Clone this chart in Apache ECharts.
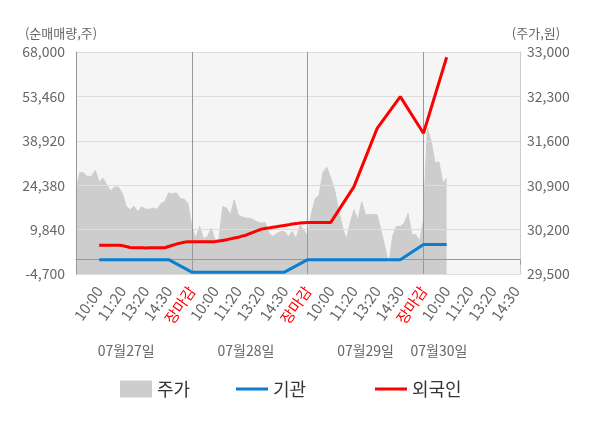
<!DOCTYPE html>
<html>
    <head>
        <meta charset="utf-8" />
        <script src="https://cdnjs.cloudflare.com/ajax/libs/echarts/6.0.0/echarts.min.js"></script>
    </head>
    <body style="margin: 0">
        <div id="main" style="width: 600px; height: 428px"></div>
        <script type="text/javascript">
            // tick labels of the time axis, one every 6 slots
            const timeLabels = [
                "10:00", "11:20", "13:20", "14:30", "장마감",
                "10:00", "11:20", "13:20", "14:30", "장마감",
                "10:00", "11:20", "13:20", "14:30", "장마감",
                "10:00", "11:20", "13:20", "14:30",
            ];
            const dateLabels = ["07월27일", "07월28일", "07월29일", "07월30일"];
            const dateSlots = [13, 44, 75, 94];

            // 주가 (원), one value per slot
            const price = [
                30800, 31100, 31090, 31030, 31040, 31130, 30950, 31010, 30900, 30810,
                30870, 30870, 30770, 30570, 30510, 30570, 30480, 30560, 30520, 30520,
                30540, 30520, 30610, 30640, 30780, 30760, 30780, 30690, 30680, 30610,
                30250, 30060, 30250, 30060, 30080, 30220, 30040, 30040, 30560, 30540,
                30430, 30670, 30430, 30400, 30380, 30380, 30350, 30320, 30300, 30310,
                30140, 30090, 30140, 30170, 30170, 30090, 30170, 30060, 30270, 30190,
                30090, 30460, 30690, 30750, 31110, 31180, 31010, 30820, 30510, 30250,
                30040, 30300, 30510, 30350, 30640, 30430, 30440, 30440, 30430, 30190,
                29930, 29640, 30090, 30250, 30250, 30300, 30450, 30120, 30120, 30010,
                30350, 31800, 31590, 31250, 31270, 30930, 31010,
            ];

            // 순매매량 (주), null where no point was read
            const institution = [
                null, null, null, null, null, null, 0, null, null, null,
                null, null, null, null, null, null, null, null, null, null,
                null, null, null, null, 0, null, null, null, null, null,
                -4100, null, null, null, null, null, null, null, null, null,
                null, null, null, null, null, null, null, null, null, null,
                null, null, null, null, -4100, null, null, null, null, null,
                0, null, null, null, null, null, null, null, null, null,
                null, null, null, null, null, null, null, null, null, null,
                null, null, null, null, 0, null, null, null, null, null,
                5000, null, null, null, null, null, 5000,
            ];
            const foreigner = [
                null, null, null, null, null, null, 4700, 4700, 4700, 4700,
                4700, 4700, 4600, 4300, 4000, 3900, 3900, 3900, 3800, 3900,
                3900, 3900, 3900, 3900, 4300, 4700, 5100, 5400, 5700, 5900,
                5900, 5900, 5900, 5900, 5900, 5900, 5900, 6100, 6300, 6500,
                6800, 7100, 7300, 7700, 8000, 8500, 9000, 9500, 10000, 10200,
                10400, 10600, 10800, 11000, 11200, 11400, 11700, 11800, 12000, 12100,
                12200, 12200, 12200, 12200, 12200, 12200, 12200, null, null, null,
                null, null, 23900, null, null, null, null, null, 43000, null,
                null, null, null, null, 53400, null, null, null, null, null,
                41400, null, null, null, null, null, 66300,
            ];

            const slotsPerLabel = 6;
            const slotCount = slotsPerLabel * timeLabels.length + 2;
            const categories = new Array(slotCount).fill("");
            timeLabels.forEach((t, k) => (categories[(k + 1) * slotsPerLabel] = t));
            const dateCategories = new Array(slotCount).fill("");
            dateLabels.forEach((d, k) => (dateCategories[dateSlots[k]] = d));

            const font = "Noto Sans CJK KR";
            const dayEdge = (idx) => idx % (slotsPerLabel * 5) === 0 || idx === slotCount - 1;

            const legendBase = {
                top: 375,
                itemWidth: 32,
                itemGap: 0,
                textStyle: { fontSize: 18, color: "#333", fontFamily: font },
            };

            var myChart = echarts.init(document.getElementById("main"));
            myChart.setOption({
                animation: false,
                textStyle: { fontFamily: font },
                grid: {
                    left: 76,
                    right: 80,
                    top: 52,
                    bottom: 154,
                    show: true,
                    backgroundColor: "#f5f5f5",
                    borderWidth: 0,
                },
                legend: [
                    Object.assign({ left: 115, itemHeight: 17, data: [{ name: "주가", icon: "rect" }] }, legendBase),
                    Object.assign({ left: 231, itemHeight: 3, data: [{ name: "기관", icon: "rect" }] }, legendBase),
                    Object.assign({ left: 370, itemHeight: 3, data: [{ name: "외국인", icon: "rect" }] }, legendBase),
                ],
                xAxis: [
                    {
                        type: "category",
                        data: categories,
                        boundaryGap: false,
                        z: 3,
                        axisLine: { lineStyle: { color: "#999" } },
                        axisTick: {
                            interval: (idx) => dayEdge(idx),
                            length: 5,
                            lineStyle: { color: "#999" },
                        },
                        splitLine: {
                            show: true,
                            interval: (idx) => idx > 0 && idx % (slotsPerLabel * 5) === 0,
                            lineStyle: { color: "#999" },
                        },
                        axisLabel: {
                            interval: (idx, val) => val !== "",
                            rotate: 55,
                            margin: 14,
                            fontSize: 15,
                            color: (val, idx) =>
                                val === "장마감" ? "#ff0000" : val === "10:00" && idx > 90 ? "#222" : "#666",
                        },
                    },
                    {
                        type: "category",
                        data: dateCategories,
                        boundaryGap: false,
                        position: "bottom",
                        offset: 70,
                        axisLine: { show: false },
                        axisTick: { show: false },
                        axisLabel: {
                            interval: (idx, val) => val !== "",
                            margin: 0,
                            fontSize: 14,
                            color: "#666",
                        },
                    },
                ],
                yAxis: [
                    {
                        type: "value",
                        min: -4700,
                        max: 68000,
                        interval: 14540,
                        z: 3,
                        name: "(순매매량,주)",
                        nameGap: 12,
                        nameTextStyle: { color: "#666", fontSize: 13, align: "center", padding: [0, 30, 0, 0] },
                        axisLine: { show: true, lineStyle: { color: "#999" } },
                        axisTick: { show: false },
                        axisLabel: {
                            margin: 11,
                            fontSize: 14,
                            color: "#666",
                            formatter: (v) => v.toLocaleString("en-US"),
                        },
                        splitLine: { lineStyle: { color: "#ddd" } },
                    },
                    {
                        type: "value",
                        min: 29500,
                        max: 33000,
                        interval: 700,
                        z: 3,
                        name: "(주가,원)",
                        nameGap: 12,
                        nameTextStyle: { color: "#666", fontSize: 13, align: "center", padding: [0, 0, 0, 32] },
                        axisLine: { show: true, lineStyle: { color: "#ccc" } },
                        axisTick: { show: false },
                        axisLabel: {
                            margin: 7,
                            fontSize: 14,
                            color: "#666",
                            formatter: (v) => v.toLocaleString("en-US"),
                        },
                        splitLine: { show: false },
                    },
                ],
                series: [
                    {
                        name: "주가",
                        type: "line",
                        yAxisIndex: 1,
                        data: price,
                        z: 1,
                        symbol: "none",
                        itemStyle: { color: "#cdcdcd" },
                        lineStyle: { width: 1, color: "#cdcdcd" },
                        areaStyle: { color: "#cdcdcd", opacity: 1, origin: "start" },
                    },
                    {
                        name: "기관",
                        type: "line",
                        data: institution,
                        connectNulls: true,
                        z: 5,
                        symbol: "none",
                        itemStyle: { color: "#0b7fcf" },
                        lineStyle: { width: 3, color: "#0b7fcf" },
                        markLine: {
                            silent: true,
                            symbol: "none",
                            label: { show: false },
                            lineStyle: { color: "#999", type: "solid", width: 1 },
                            data: [{ yAxis: 0 }],
                            z: 4,
                        },
                    },
                    {
                        name: "외국인",
                        type: "line",
                        data: foreigner,
                        connectNulls: true,
                        z: 6,
                        symbol: "none",
                        itemStyle: { color: "#ff0000" },
                        lineStyle: { width: 3, color: "#ff0000" },
                    },
                ],
            });
        </script>
    </body>
</html>
